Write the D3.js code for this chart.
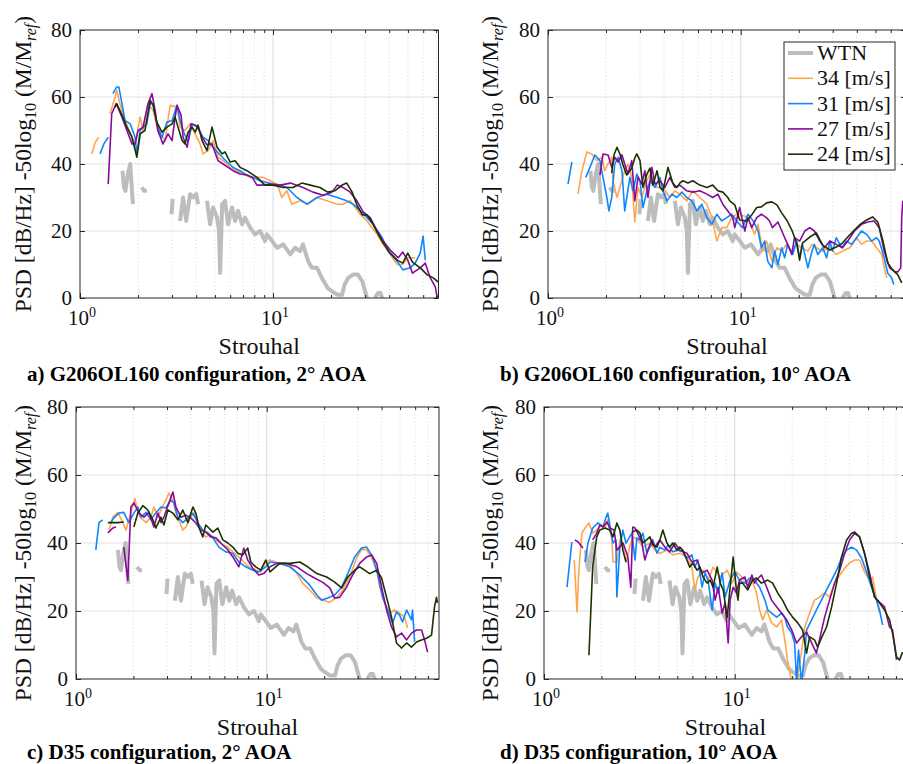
<!DOCTYPE html>
<html><head><meta charset="utf-8">
<script src="https://cdn.jsdelivr.net/npm/d3@7"></script>
<style>body{margin:0;background:#fff}svg{display:block}</style>
</head><body>
<svg id="chart" width="903" height="764"></svg>
<script>
// ---------- DATA (Strouhal, dB) ; null = gap ----------
const wtn = [[1.66,38],[1.69,33],[1.72,32],[1.77,37],[1.82,40],[1.86,32],[1.88,28],null,
 [2.09,33],[2.15,32],[2.22,32],null,[2.98,25],[3.02,29.5],null,
 [3.30,23],[3.42,30],[3.55,23],[3.72,31],[3.85,30],[4.00,31],[4.09,28],null,
 [4.55,29],[4.72,22],[4.89,27],[5.13,24],[5.25,20],[5.32,7.5],[5.40,20],[5.45,28],[5.64,29],[5.85,22],[6.13,27],[6.36,23],[6.59,26],[6.91,22],[7.16,24],[7.61,21],[8.07,19],[8.57,20],[9.09,17],[9.31,19],[10.5,15],[11.3,16],[12.3,13],[13.0,15],[13.8,14],[14.3,16],[15.2,11],[15.9,9],[16.9,9],[17.9,6],[19.2,3],[20.2,2],[21.5,1],[22.8,1],[23.5,4],[24.5,6],[26.0,7],[27.5,7],[29.0,5],[30.7,0],[31.5,-1],null,
 [33.7,0],[35.0,1.5],[36.0,1.5],[37.0,-0.5]];

const a34 = [[1.15,43],[1.2,46.5],[1.25,48],null,[1.43,55],[1.52,60],[1.55,62],[1.61,58],[1.71,53],[1.86,48],[1.93,46],[2.05,54],[2.12,50],[2.25,58],[2.39,56],[2.53,50],[2.76,47],[2.93,57.5],[3.18,57],[3.30,51],[3.50,50],[3.72,52],[3.95,49],[4.19,46],[4.34,43],[4.61,44],[4.89,47],[5.19,42],[5.51,41],[5.99,39],[6.51,38],[7.00,37],[7.61,36],[8.26,36],[8.88,36],[9.66,35],[10.5,34],[11.1,30],[11.8,32],[12.5,28],[13.8,29],[15.2,28],[16.9,30],[19.0,29],[21.5,28],[23.0,28],[25.1,29],[28.3,25],[30.7,23],[34.6,19],[37.2,16],[40.5,13],[44.0,10],[47.0,10],[49.9,12],[54.5,12]];
const a31 = [[1.27,43],[1.33,46],[1.40,48],null,[1.48,61],[1.55,63],[1.59,63],[1.65,58],[1.71,53],[1.82,52],[1.93,48],[1.97,43],[2.05,50],[2.22,52],[2.31,58],[2.39,58],[2.53,51],[2.66,48],[2.82,52.5],[3.00,53],[3.18,57.5],[3.30,53],[3.42,50],[3.63,46.5],[3.81,52],[4.04,51],[4.34,48],[4.61,47],[4.89,45],[5.32,42.7],[5.78,40.6],[6.21,39],[6.75,38],[7.33,36.7],[7.88,36],[8.57,35],[10.0,34],[10.9,33.7],[11.8,33],[13.3,30],[15.0,28],[16.9,30],[19.0,31],[21.5,30],[24.1,29],[26.0,28],[28.3,26],[30.7,24],[33.0,22],[36.8,18],[39.4,14],[44.0,11],[47.0,8.4],[51.4,9],[54.5,10.4],[57.9,13.4],[59.9,18.5],[61.5,11.3]];
const a27 = [[1.40,34],[1.46,55],[1.54,58],[1.65,54],[1.75,50],[1.86,46],[1.93,46],[2.00,50],[2.12,51],[2.25,58],[2.36,61],[2.45,56],[2.53,50],[2.69,46],[2.86,49],[3.00,47],[3.11,54],[3.18,57.5],[3.34,54.6],[3.42,48],[3.59,45],[3.76,52],[3.95,51.6],[4.09,51],[4.29,48],[4.55,45.7],[4.83,46],[5.19,41],[5.51,40],[5.85,39],[6.21,38],[6.75,37],[7.33,36.7],[7.79,36],[8.26,33.7],[8.88,33.7],[9.66,34],[10.9,33.7],[12.3,34.3],[14.3,33],[16.1,31.6],[18.2,30.7],[20.2,31.6],[21.5,33.7],[23.0,33],[25.1,31.6],[27.2,29],[29.3,25.7],[31.9,24],[34.6,20],[37.2,17],[40.5,14.3],[44.5,12],[47.0,13.7],[49.9,11.3],[52.8,7.4],[57.9,9],[61.5,10.4],[65.3,6],[69.3,3.3],[71.0,0]];
const a24 = [[1.52,57],[1.55,58],[1.65,54.6],[1.75,51],[1.86,48],[1.97,42],[2.05,49],[2.17,50],[2.31,59],[2.39,57.6],[2.50,52.5],[2.66,49.5],[2.82,51],[3.00,52],[3.11,54],[3.22,51],[3.38,47],[3.50,46],[3.63,49.5],[3.81,51],[3.95,49.5],[4.09,51.6],[4.29,47],[4.55,44],[4.83,51],[5.13,45],[5.45,43],[5.64,43.6],[5.99,40.6],[6.36,41],[6.75,39],[7.33,38],[7.79,37],[8.26,36],[9.09,33.7],[10.0,33.7],[11.3,33],[12.7,33],[14.1,34.3],[15.6,33.7],[17.5,33],[19.2,31.6],[20.9,32],[22.8,33.7],[24.1,34.3],[25.7,31.6],[27.2,27.8],[29.0,24.8],[30.7,24.8],[32.7,22.4],[34.6,19.7],[37.2,16.4],[40.5,13.4],[44.0,11.3],[47.0,10.4],[49.9,13.4],[52.8,10.7],[57.9,9],[63.0,6.9],[67.6,6],[71.6,4.8]];

const b34 = [[1.43,31],[1.50,38],[1.59,43.6],[1.69,43],[1.79,41],[1.90,42],[1.97,38],[2.05,40],[2.14,42],[2.17,35],[2.28,30],[2.50,38],[2.60,40],[2.72,36],[2.82,22.7],[2.93,33],[3.07,30],[3.26,35],[3.38,37],[3.68,33],[3.95,33],[4.29,30],[4.55,32],[4.83,31],[5.25,29],[5.64,32],[6.13,30],[6.67,28],[7.08,24],[7.52,17],[7.97,21],[8.46,21],[8.98,24],[9.53,25],[9.87,25],[10.9,24],[11.8,19],[12.3,22],[13.0,14],[13.6,17],[14.5,11],[15.4,15],[16.3,14],[17.3,16],[18.4,14],[19.5,16],[20.7,15],[22.3,14],[23.4,16],[24.7,15],[26.6,14],[29.0,15],[31.3,13],[33.7,14],[36.8,15],[39.9,18],[42.3,16],[45.0,17],[47.7,17],[50.6,15],[53.9,13],[55.5,9],[57.2,6]];
const b31 = [[1.27,34],[1.33,40.6],null,[1.57,36],[1.65,39],[1.75,42.7],[1.86,41],[1.93,36],[2.02,30],[2.07,26],[2.14,30],[2.22,40],[2.31,42],[2.42,38],[2.50,26],[2.66,36],[2.76,32],[2.89,37],[3.00,35],[3.11,27],[3.26,32],[3.38,35],[3.59,33],[3.81,36],[3.95,32],[4.14,29],[4.39,31],[4.66,30],[4.95,31.6],[5.25,30],[5.58,29],[5.92,26],[6.28,28],[6.67,24],[7.08,22],[7.52,25],[7.97,23],[8.46,24],[8.98,25],[9.53,23],[10.2,21],[10.9,25],[11.6,23],[12.3,20],[12.8,15],[13.3,17],[13.8,11],[14.5,9],[15.0,14],[15.6,10],[16.3,15],[16.9,12],[17.5,16],[18.6,13],[19.5,17],[20.2,12],[20.9,16],[22.3,9],[23.4,14],[24.1,16],[25.1,13],[26.6,15],[27.9,12],[29.0,17],[29.9,14],[31.3,18],[33.4,15],[35.4,17],[37.6,16],[39.9,18],[42.3,20],[45.0,19],[47.7,17],[50.6,18],[52.3,17],[55.5,12],[57.9,7.4],[60.7,6],[62.2,4]];
const b27 = [[1.86,36.7],[1.93,43],[2.05,42.7],[2.14,39],[2.22,42],[2.31,40.6],[2.42,42.7],[2.50,40],[2.60,37],[2.72,41],[2.82,29],[2.93,36],[3.07,34],[3.18,38],[3.30,30],[3.46,39],[3.59,34],[3.81,35],[4.04,33],[4.29,36],[4.55,33],[4.83,33.7],[5.25,32],[5.64,31.6],[6.13,32],[6.67,31],[7.16,30],[7.61,31],[8.07,28],[8.57,26],[9.09,24],[9.31,21],[9.87,27],[10.5,20],[10.9,24],[11.4,21],[12.1,24],[12.8,25],[13.6,24],[14.1,23],[14.6,21],[15.6,22.7],[16.5,19.4],[17.5,16],[18.4,13],[19.0,18],[20.2,17],[21.5,20],[22.8,21],[24.1,20],[25.7,17],[27.2,15],[29.0,17],[31.3,16],[33.7,15],[35.9,17],[38.9,20],[42.3,22],[45.6,22.7],[49.2,23],[52.3,21],[55.5,14],[59.2,9],[63.0,7.8],[65.3,7.8],[67.6,9],[68.4,24],[69.3,29]];
const b24 = [[2.14,37.3],[2.20,42.7],[2.28,45],[2.36,43],[2.45,39.7],[2.56,36.7],[2.72,38.8],[2.82,41.8],[2.89,43],[3.00,41],[3.11,33],[3.26,37],[3.38,38.8],[3.50,33.7],[3.68,38],[3.81,33],[3.95,32],[4.19,39],[4.44,34.3],[4.66,33],[4.83,34.3],[5.01,35],[5.32,34.3],[5.64,35],[6.13,33.7],[6.67,33],[7.16,33.7],[7.61,32],[8.07,31.6],[8.57,30],[8.77,29],[9.31,27.8],[9.87,23.3],[10.7,23],[11.4,24.8],[12.1,27],[12.8,27.2],[13.6,28.4],[14.5,28.7],[15.4,27.8],[16.3,25.4],[17.3,23.3],[18.4,20.3],[19.5,16.4],[20.2,11.3],[20.9,16.4],[22.8,18.2],[24.7,19.4],[26.6,15.8],[29.0,14.3],[31.3,15.2],[33.7,16.4],[35.9,18.2],[38.0,19.7],[41.3,21.8],[45.0,23.3],[48.3,24.2],[51.4,22.7],[54.5,17.3],[57.9,10.4],[61.5,8.4],[65.3,6.9],[68.4,4.5]];

const c34 = [[1.49,43.8],[1.56,47.6],[1.66,49],[1.76,46],[1.83,43.8],[1.89,46.8],[1.99,51],[2.04,53],[2.11,49],[2.19,47.4],[2.33,46],[2.47,47.6],[2.56,50.6],[2.69,47.6],[2.79,49.7],[2.96,52.6],[3.07,54.7],[3.22,52.6],[3.34,48.8],[3.46,46.8],[3.63,43.8],[3.77,44.7],[4.00,47.6],[4.15,48.8],[4.35,45.9],[4.51,43],[4.79,41.8],[5.09,42.4],[5.41,40.9],[5.89,39.4],[6.25,38.8],[6.64,37.4],[7.14,35.9],[7.58,34.4],[8.05,33],[8.76,32],[9.30,31.5],[9.88,34.4],[10.4,35],[11.7,34],[13.2,33.5],[14.4,31],[15.4,28.2],[16.8,26.2],[18.3,23.8],[19.6,23.2],[21.4,22.6],[23.3,24],[25.0,26.2],[27.2,30],[29.6,35.6],[31.4,38],[33.4,38],[35.5,35.6],[37.7,32],[39.1,27],[41.5,22.4],[44.1,19.4],[46.8,20.3],[49.7,19.4],[52.8,18.2],[54.7,15]];
const c31 = [[1.27,38],[1.32,46],[1.38,46.8],null,[1.52,46],[1.58,47.4],[1.68,48.8],[1.78,49],[1.89,46],[2.01,48.8],[2.11,50.6],[2.19,47.6],[2.33,49],[2.47,46.8],[2.62,48.8],[2.79,50.6],[2.96,50.3],[3.14,52.6],[3.26,51.8],[3.42,47.6],[3.63,46],[3.86,47.4],[4.10,48.8],[4.35,45.9],[4.62,43.8],[4.91,43],[5.22,41.5],[5.61,38.8],[6.10,37.4],[6.64,37],[7.14,34.4],[7.76,33],[8.45,32],[9.08,31.5],[9.88,33],[10.4,34.4],[11.7,34],[13.2,33],[14.9,30.6],[16.8,27.6],[18.3,24.7],[19.4,23.2],[20.9,23.8],[22.7,24.7],[24.7,27],[26.6,31],[28.9,35.9],[31.4,38.5],[33.4,38.8],[35.9,35.9],[38.1,31],[40.5,24],[43.0,20.3],[45.7,16.5],[47.9,19.7],[49.7,18.8],[51.5,16.8],[54.1,20.3],[57.4,17.4],[58.1,20.3],[59.6,11]];
const c27 = [[1.47,43],[1.56,44.4],[1.62,44.7],null,[1.78,38.8],[1.87,29],[1.94,50.6],[2.01,51.8],[2.14,48.8],[2.27,47.6],[2.41,49],[2.56,44.7],[2.69,48.8],[2.79,46],[2.89,47.6],[3.07,51.8],[3.22,55],[3.34,50.6],[3.55,47.6],[3.77,48.2],[4.00,47.4],[4.25,45.9],[4.51,43.8],[4.79,43.2],[5.09,41.8],[5.41,41.5],[5.89,39.4],[6.25,38],[6.64,35.9],[7.14,33],[7.58,38.5],[7.95,35],[8.45,32.6],[9.08,30.6],[9.64,31],[10.4,33],[11.3,34],[12.7,34],[14.4,33],[16.2,31],[17.8,29.7],[19.6,28.5],[21.4,26.8],[22.7,23.8],[24.1,24],[26.2,27],[28.2,30.6],[30.7,34],[33.4,35.9],[35.5,36.5],[37.7,34],[40.0,27],[42.5,20.3],[45.1,15.3],[47.9,12.4],[50.9,13.5],[54.1,11.5],[57.4,13.5],[61.0,14.4],[64.8,14.4],[67.2,11.5],[69.7,7.9]];
const c24 = [[1.47,46],[1.66,46],[1.78,46.2],null,[2.01,44.7],[2.11,48.8],[2.24,51],[2.38,49.7],[2.53,46.8],[2.62,44.4],[2.79,47.6],[2.89,45.3],[3.03,49.7],[3.22,48.8],[3.42,46.8],[3.63,49.7],[3.86,46],[4.10,50.6],[4.25,48.8],[4.41,44.7],[4.62,41.8],[4.79,45.3],[4.97,44.4],[5.22,43.2],[5.54,44.4],[5.89,40.9],[6.25,40],[6.64,38.8],[7.05,37],[7.49,36.5],[7.95,38.5],[8.25,34.4],[8.76,33],[9.30,32],[9.88,35],[10.4,31.5],[11.7,34],[13.2,34],[14.9,34.4],[16.4,33],[18.3,31],[20.6,30],[22.7,28.5],[24.7,26.8],[26.6,30],[28.9,32],[30.7,33],[32.6,32],[34.6,31],[37.7,32],[40.0,29.7],[42.5,24],[45.1,18.2],[47.9,10.6],[50.9,9.1],[54.1,10.6],[57.4,9.4],[61.0,10.9],[64.8,11.5],[68.8,12],[73.1,12.9],[75.8,21.2],[77.6,24],[78.6,22.4]];

const d34 = [[1.44,35],[1.49,19.7],[1.52,31.2],[1.58,42.9],[1.64,44.4],[1.72,45.9],[1.80,42.9],[1.89,43.8],[2.01,45.3],[2.09,44.7],[2.16,46.8],[2.27,40.9],[2.30,34.4],[2.41,34.4],[2.50,40.9],[2.59,40],[2.69,34.4],[2.82,39],[2.92,41.8],[3.10,40.9],[3.30,38.8],[3.59,40],[3.81,37.9],[4.05,37],[4.41,37.9],[4.73,36.5],[5.15,37],[5.61,35.9],[5.96,32.9],[6.18,26.2],[6.41,30],[6.82,32],[7.25,29.1],[7.70,32.9],[8.39,30],[9.13,32],[9.69,28.2],[10.2,31.5],[10.9,30],[11.5,28.2],[12.3,29.1],[13.0,25.3],[13.5,20.3],[14.0,17.4],[14.7,20.3],[15.6,16.5],[16.6,15.3],[17.6,17.4],[18.3,11.5],[18.9,5.6],[19.9,-1],[21.1,-1],[22.4,8],[23.3,15.3],[24.7,19.4],[26.2,23.2],[27.8,24.1],[29.6,25.3],[31.4,24.1],[33.4,28.2],[35.5,30.6],[37.7,32.6],[40.0,34.1],[42.5,35],[45.1,35],[47.9,31.5],[50.9,29.1],[52.8,30],[55.4,23.2],[57.4,19.4]];
const d31 = [[1.32,27],[1.40,40.3],null,[1.64,34.4],[1.70,40],[1.80,44.4],[1.92,45.9],[2.04,44.7],[2.11,47.4],[2.16,48.8],[2.24,43.8],[2.30,40],[2.38,40.9],[2.41,24.1],[2.50,38.8],[2.59,43.8],[2.69,40],[2.75,40.9],[2.89,42.9],[3.00,35],[3.07,41.5],[3.18,40.9],[3.30,42.9],[3.46,37],[3.59,38.8],[3.72,40.9],[3.91,37],[4.05,38.8],[4.30,37.9],[4.46,39.4],[4.73,37.4],[5.03,37.9],[5.34,37.4],[5.61,35.6],[5.96,36.5],[6.18,32.9],[6.41,35],[6.74,27],[6.99,31.2],[7.25,29.1],[7.61,20.3],[7.89,28.2],[8.19,25.3],[8.59,31.2],[8.91,24.1],[9.46,29.1],[10.0,31.5],[10.6,29],[11.3,28.2],[12.0,29.7],[12.7,29],[13.5,27],[14.4,23.2],[14.9,20.3],[15.6,19.4],[16.6,18.2],[17.6,19.4],[18.3,18],[18.9,15.3],[19.9,13.5],[20.6,10.6],[21.1,-1],[21.6,8.5],[22.4,-1],[23.3,7.6],[23.8,14.4],[25.3,17.4],[26.8,20.3],[28.5,23.2],[30.3,26.2],[32.2,29.1],[34.2,32],[36.3,35.6],[38.6,37.9],[41.0,38.8],[43.5,37.9],[46.2,35.6],[49.1,31.5],[52.1,27],[55.4,23.2],[57.4,20.3],[59.6,15.9]];
const d27 = [[1.45,40.9],[1.51,40.3],[1.60,38.5],null,[1.80,40.9],[1.89,42.9],[1.96,45.3],[2.04,44.7],[2.14,46.2],[2.21,44.4],[2.33,43.8],[2.41,37.9],[2.60,40],[2.75,36],[2.85,27],[2.92,44.7],[3.00,44.4],[3.10,42.9],[3.26,40],[3.38,35],[3.50,37.9],[3.68,40.9],[3.81,38.8],[4.05,40.9],[4.30,38.8],[4.57,37.4],[4.85,40],[5.15,37.9],[5.61,37],[5.96,34.4],[6.34,35],[6.74,31.2],[7.16,32],[7.61,29.1],[7.89,23.2],[8.19,27],[8.59,19.4],[8.91,22.4],[9.24,10.6],[9.46,23.2],[9.81,27],[10.2,25.3],[10.6,29.1],[11.3,30],[11.7,27],[12.3,30.6],[12.7,28.2],[13.0,29.1],[13.8,30.6],[14.7,27],[15.6,23.2],[16.6,21.2],[17.6,19.4],[18.7,17.4],[19.9,14.4],[21.1,10.6],[22.4,12.4],[23.8,13.8],[25.3,10.6],[26.8,7.6],[27.8,11.5],[29.6,18.2],[31.4,23.2],[33.4,28.2],[35.5,32],[37.7,37],[40.0,40.9],[42.5,42.9],[45.1,41.8],[47.9,37],[50.9,31.2],[54.1,24.1],[57.4,22.6],[61.0,21.2],[64.8,15.3],[67.2,14.4],[70.5,5.6]];
const d24 = [[1.72,7],[1.80,33],[1.89,41.8],[1.96,43.8],[2.09,44.4],[2.21,43.8],[2.30,41.8],[2.41,45.9],[2.50,43.8],[2.59,37.9],[2.69,34.4],null,[2.89,43.2],[3.07,43.8],[3.18,43],[3.30,40],[3.46,41],[3.59,41.8],[3.72,39.4],[3.91,38.8],[4.05,40.9],[4.20,43.8],[4.41,40],[4.57,38.8],[4.73,40],[4.97,37.9],[5.15,38.8],[5.34,37.9],[5.61,35],[5.81,32.9],[6.03,34.1],[6.34,32],[6.57,32.9],[6.82,30],[7.16,28.2],[7.43,29.1],[7.70,27],[8.09,32.9],[8.39,28.2],[8.70,26.2],[9.13,18.2],[9.46,27],[9.81,35.9],[10.2,26.2],[10.4,23.2],[10.6,28.2],[11.0,28.2],[11.7,26.2],[12.4,29.1],[13.0,29.7],[13.8,28.2],[14.9,29.1],[15.8,28.2],[16.8,25.3],[17.8,23.2],[18.9,20.3],[20.1,18.2],[21.4,16.5],[22.7,14.4],[23.8,7.6],[24.7,12.4],[26.2,11.5],[27.2,9.4],[28.5,12.1],[30.3,15.3],[32.2,21.2],[34.2,28.2],[36.3,35.9],[38.6,40.9],[41.0,42.9],[42.5,43.2],[45.1,41.8],[47.9,37],[50.9,30],[54.1,24.1],[57.4,22.4],[61.0,20.3],[64.8,17.4],[67.2,13.5],[70.5,6.5],[73.1,5.6],[75.8,7.9]];

const seriesNames = ["WTN", "34 [m/s]", "31 [m/s]", "27 [m/s]", "24 [m/s]"];
const seriesColors = ["#bdbdbd", "#ffa54f", "#0d86ff", "#8a0a9c", "#1a3300"];
const yTicks = [0, 20, 40, 60, 80];
const xMajor = [1, 10];
const xMinor = [2, 3, 4, 5, 6, 7, 8, 9, 20, 30, 40, 50, 60, 70];
const panelTitles = ["a) G206OL160 configuration, 2° AOA", "b) G206OL160 configuration, 10° AOA",
                     "c) D35 configuration, 2° AOA", "d) D35 configuration, 10° AOA"];

// ---------- LAYOUT ----------
const SERIF = "'Liberation Serif','Times New Roman',serif";
const panels = [
  {series:[wtn,a34,a31,a27,a24], title:panelTitles[0], left:80, right:438.5, top:30, bottom:298, xmax:72, ylx:31, ylc:164, tx:27, ty:381, legend:false},
  {series:[wtn,b34,b31,b27,b24], title:panelTitles[1], left:548, right:906, top:30, bottom:298, xmax:72, ylx:498, ylc:164, tx:500, ty:381, legend:true},
  {series:[wtn,c34,c31,c27,c24], title:panelTitles[2], left:76, right:439, top:407, bottom:679, xmax:80, ylx:31, ylc:553, tx:27, ty:759, legend:false},
  {series:[wtn,d34,d31,d27,d24], title:panelTitles[3], left:544, right:907, top:407, bottom:679, xmax:80, ylx:498, ylc:553, tx:500, ty:759, legend:false}
];

const svg = d3.select("#chart");
const AX = "#262626";

panels.forEach((p, i) => {
  const x = d3.scaleLog().domain([1, p.xmax]).range([p.left, p.right]);
  const y = d3.scaleLinear().domain([0, 80]).range([p.bottom, p.top]);
  const g = svg.append("g");

  const clipId = "clip" + i;
  svg.append("clipPath").attr("id", clipId).append("rect")
    .attr("x", p.left).attr("y", p.top).attr("width", p.right - p.left).attr("height", p.bottom - p.top);

  // grid
  const grid = g.append("g");
  grid.selectAll("line.minor").data(xMinor.filter(v => v < p.xmax)).join("line")
    .attr("x1", d => x(d)).attr("x2", d => x(d)).attr("y1", p.top).attr("y2", p.bottom)
    .attr("stroke", "#cfcfcf").attr("stroke-width", 0.8).attr("stroke-dasharray", "1,2.5");
  grid.selectAll("line.majx").data(xMajor.filter(v => v > 1)).join("line")
    .attr("x1", d => x(d)).attr("x2", d => x(d)).attr("y1", p.top).attr("y2", p.bottom)
    .attr("stroke", "#e0e0e0").attr("stroke-width", 1.2);
  grid.selectAll("line.majy").data(yTicks.filter(v => v > 0 && v < 80)).join("line")
    .attr("x1", p.left).attr("x2", p.right).attr("y1", d => y(d)).attr("y2", d => y(d))
    .attr("stroke", "#e0e0e0").attr("stroke-width", 1.2);

  // series
  const line = d3.line().defined(d => d !== null).x(d => x(d[0])).y(d => y(d[1]));
  const lines = g.append("g").attr("clip-path", `url(#${clipId})`);
  p.series.forEach((s, k) => {
    lines.append("path").datum(s).attr("d", line).attr("fill", "none")
      .attr("stroke", seriesColors[k]).attr("stroke-width", k === 0 ? 4 : 1.6)
      .attr("stroke-linejoin", "round").attr("stroke-linecap", "butt");
  });

  // axes (inward ticks)
  const styleAxis = sel => { sel.select(".domain").remove(); sel.selectAll(".tick line").attr("stroke", AX); };
  g.append("g").attr("transform", `translate(0,${p.bottom})`)
    .call(d3.axisBottom(x).tickValues(xMajor).tickSizeInner(-5).tickSizeOuter(0).tickFormat(() => "")).call(styleAxis);
  g.append("g").attr("transform", `translate(0,${p.bottom})`)
    .call(d3.axisBottom(x).tickValues(xMinor.filter(v => v < p.xmax)).tickSizeInner(-3).tickSizeOuter(0).tickFormat(() => "")).call(styleAxis);
  g.append("g").attr("transform", `translate(0,${p.top})`)
    .call(d3.axisTop(x).tickValues(xMajor).tickSizeInner(-5).tickSizeOuter(0).tickFormat(() => "")).call(styleAxis);
  g.append("g").attr("transform", `translate(0,${p.top})`)
    .call(d3.axisTop(x).tickValues(xMinor.filter(v => v < p.xmax)).tickSizeInner(-3).tickSizeOuter(0).tickFormat(() => "")).call(styleAxis);
  const yAx = g.append("g").attr("transform", `translate(${p.left},0)`)
    .call(d3.axisLeft(y).tickValues(yTicks).tickSizeInner(-5).tickSizeOuter(0).tickPadding(8)).call(styleAxis);
  yAx.selectAll(".tick text").attr("font-family", SERIF).attr("font-size", 21).attr("fill", "#111").attr("dy", "0.3em");
  yAx.attr("font-family", null).attr("font-size", null);
  g.append("g").attr("transform", `translate(${p.right},0)`)
    .call(d3.axisRight(y).tickValues(yTicks).tickSizeInner(-5).tickSizeOuter(0).tickFormat(() => "")).call(styleAxis);

  // frame
  g.append("rect").attr("x", p.left).attr("y", p.top).attr("width", p.right - p.left).attr("height", p.bottom - p.top)
    .attr("fill", "none").attr("stroke", AX).attr("stroke-width", 1);

  // x tick labels 10^n
  xMajor.forEach(v => {
    const t = g.append("text").attr("x", x(v) + 2).attr("y", p.bottom + 27).attr("text-anchor", "middle")
      .attr("font-family", SERIF).attr("font-size", 21).attr("fill", "#111");
    t.append("tspan").text("10");
    t.append("tspan").attr("dy", -8).attr("font-size", 14).text(String(Math.round(Math.log10(v))));
  });

  // x label
  g.append("text").attr("x", (p.left + p.right) / 2).attr("y", p.bottom + 56).attr("text-anchor", "middle")
    .attr("font-family", SERIF).attr("font-size", 24).attr("fill", "#111").text("Strouhal");

  // y label
  const yl = g.append("text").attr("transform", `translate(${p.ylx},${p.ylc}) rotate(-90)`)
    .attr("text-anchor", "middle").attr("font-family", SERIF).attr("font-size", 23.5).attr("fill", "#111");
  yl.append("tspan").text("PSD [dB/Hz] -50log");
  yl.append("tspan").attr("dy", 5).attr("font-size", 16).text("10");
  yl.append("tspan").attr("dy", -5).text(" (M/M");
  yl.append("tspan").attr("dy", 5).attr("font-size", 16).attr("font-style", "italic").text("ref");
  yl.append("tspan").attr("dy", -5).text(")");

  // title
  g.append("text").attr("x", p.tx).attr("y", p.ty).attr("font-family", SERIF).attr("font-weight", "bold")
    .attr("font-size", 21).attr("fill", "#000").text(p.title);

  // legend
  if (p.legend) {
    const lx = 784, ly = 42, lw = 111, lh = 128;
    const lg = g.append("g");
    lg.append("rect").attr("x", lx).attr("y", ly).attr("width", lw).attr("height", lh)
      .attr("fill", "#fff").attr("stroke", AX).attr("stroke-width", 1);
    seriesNames.forEach((nm, k) => {
      const cy = ly + 11 + k * 25.3;
      lg.append("line").attr("x1", lx + 4).attr("x2", lx + 29).attr("y1", cy).attr("y2", cy)
        .attr("stroke", seriesColors[k]).attr("stroke-width", k === 0 ? 4 : 1.6);
      lg.append("text").attr("x", lx + 33).attr("y", cy + 7).attr("font-family", SERIF)
        .attr("font-size", 22).attr("fill", "#111").text(nm);
    });
  }
});
</script>
</body></html>
